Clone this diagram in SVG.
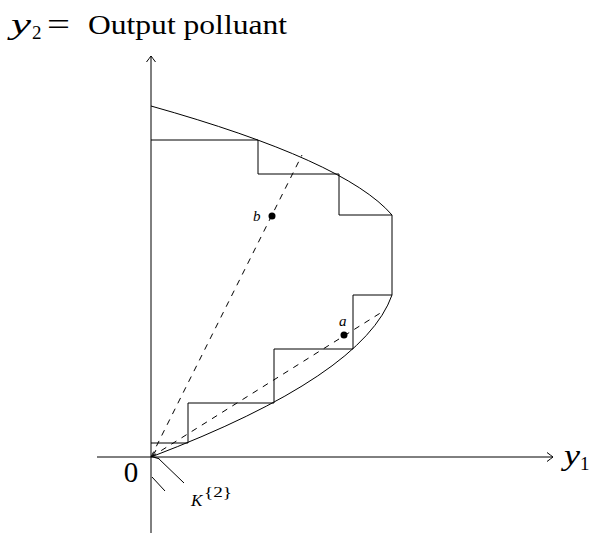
<svg xmlns="http://www.w3.org/2000/svg" width="590" height="533" viewBox="0 0 590 533">
<style>
.ln{fill:none;stroke:#000;stroke-width:1}
.ds{fill:none;stroke:#000;stroke-width:1;stroke-dasharray:6 6}
.t{font-family:"Liberation Serif",serif;fill:#000}
.i{font-style:italic}
</style>
<defs>
<marker id="ar" viewBox="-8 -6 10 12" markerWidth="10" markerHeight="12" refX="0" refY="0" orient="auto" markerUnits="userSpaceOnUse">
<path d="M-6,-4.5 Q-2,-1.5 0,0 Q-2,1.5 -6,4.5" fill="none" stroke="#000" stroke-width="1"/>
</marker>
</defs>
<rect width="590" height="533" fill="#fff"/>
<g id="axes">
<line class="ln" x1="97" y1="457" x2="553" y2="457" marker-end="url(#ar)"/>
<line class="ln" x1="151" y1="533" x2="151" y2="56" marker-end="url(#ar)"/>
</g>
<g id="frontier">
<path class="ln" d="M151,106 Q345,160.5 392,215 L392,295"/>
<path class="ln" d="M392,295 Q363.5,376 152,456.6" marker-end="url(#ar)"/>
</g>
<g id="staircase">
<path class="ln" d="M151,140 L258,140 L258,174 L339,174 L339,215 L392,215"/>
<path class="ln" d="M392,295 L353,295 L353,349 L274,349 L274,403 L188,403 L188,443 L151,443"/>
</g>
<g id="connectors">
<line class="ds" x1="151" y1="457" x2="302" y2="155"/>
<line class="ds" x1="151" y1="457" x2="382" y2="312"/>
</g>
<g id="cone">
<line class="ln" x1="158" y1="458" x2="184" y2="483"/>
<line class="ln" x1="152" y1="477" x2="165" y2="491"/>
</g>
<g id="point-b">
<circle cx="272" cy="216" r="3.5" fill="#000"/>
<text class="t i" x="253" y="221" font-size="15">b</text>
</g>
<g id="point-a">
<circle cx="344" cy="335" r="3.5" fill="#000"/>
<text class="t i" x="339" y="326" font-size="15">a</text>
</g>
<g id="labels">
<text class="t i" x="11" y="34" font-size="29" textLength="20" lengthAdjust="spacingAndGlyphs">y</text>
<text class="t" x="32" y="39" font-size="19">2</text>
<text class="t" x="47" y="35" font-size="32" textLength="23" lengthAdjust="spacingAndGlyphs">=</text>
<text class="t" x="88" y="34" font-size="27" textLength="199" lengthAdjust="spacingAndGlyphs">Output polluant</text>
<text class="t i" x="564" y="465" font-size="29" textLength="16" lengthAdjust="spacingAndGlyphs">y</text>
<text class="t" x="580" y="470" font-size="19">1</text>
<text class="t" x="131" y="482" font-size="29" text-anchor="middle">0</text>
<text class="t i" x="191" y="506" font-size="17">K</text>
<text class="t" x="204" y="497" font-size="15" textLength="28" lengthAdjust="spacingAndGlyphs">{2}</text>
</g>
</svg>
